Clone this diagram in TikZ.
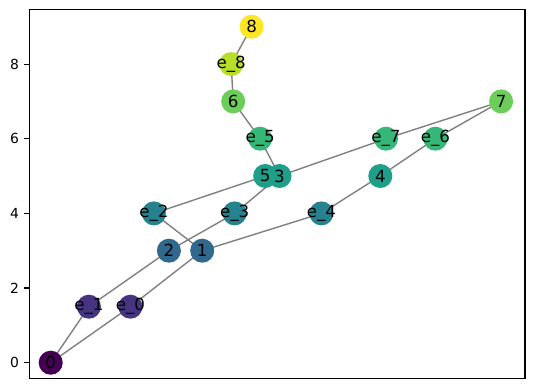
\documentclass[tikz,border=0pt]{standalone}
\usepackage{fontspec}
\setmainfont{DejaVu Sans}
\usetikzlibrary{backgrounds}
\definecolor{v0}{HTML}{440154}
\definecolor{v1}{HTML}{463480}
\definecolor{v3}{HTML}{31688E}
\definecolor{v4}{HTML}{26828E}
\definecolor{v5}{HTML}{1F9E89}
\definecolor{v6}{HTML}{35B779}
\definecolor{v7}{HTML}{6CCD5A}
\definecolor{v8}{HTML}{B8DE29}
\definecolor{v9}{HTML}{FDE725}
\definecolor{edgegray}{HTML}{808080}
\tikzset{
  vnode/.style={circle, minimum size=17.3pt, inner sep=0pt, draw=none, fill=#1},
  vlabel/.style={inner sep=0pt, font=\fontsize{12pt}{14pt}\selectfont, text=black},
  gedge/.style={draw=edgegray, line width=1pt},
  frame/.style={draw=black, line width=0.8pt},
  tick/.style={draw=black, line width=0.8pt},
  ticklabel/.style={anchor=east, inner sep=0pt, font=\fontsize{10pt}{12pt}\selectfont}
}
\begin{document}
\begin{tikzpicture}[x=0.72pt, y=-0.72pt]
\useasboundingbox (0,0) rectangle (534,389);
% nodes (circles)
\node[vnode=v0] (n0) at (50.7,362.7) {};
\node[vnode=v1] (e1) at (88.9,306.7) {};
\node[vnode=v1] (e0) at (130.4,306.7) {};
\node[vnode=v3] (n2) at (168.9,250.7) {};
\node[vnode=v3] (n1) at (202.2,250.7) {};
\node[vnode=v4] (e2) at (153.9,213.4) {};
\node[vnode=v4] (e3) at (234.6,213.4) {};
\node[vnode=v4] (e4) at (321.4,213.4) {};
\node[vnode=v5] (n5) at (265.2,176.0) {};
\node[vnode=v5] (n3) at (279.5,176.0) {};
\node[vnode=v5] (n4) at (380.3,176.0) {};
\node[vnode=v6] (e5) at (260.1,138.7) {};
\node[vnode=v6] (e7) at (386.0,138.7) {};
\node[vnode=v6] (e6) at (435.4,138.7) {};
\node[vnode=v7] (n7) at (501.1,101.4) {};
\node[vnode=v7] (n6) at (233.2,101.4) {};
\node[vnode=v8] (e8) at (231.2,64.1) {};
\node[vnode=v9] (n8) at (251.6,26.7) {};
% labels
\node[vlabel] (t0) at (n0.center) {0};
\node[vlabel] (te1) at (e1.center) {e\_1};
\node[vlabel] (te0) at (e0.center) {e\_0};
\node[vlabel] (t2) at (n2.center) {2};
\node[vlabel] (t1) at (n1.center) {1};
\node[vlabel] (te2) at (e2.center) {e\_2};
\node[vlabel] (te3) at (e3.center) {e\_3};
\node[vlabel] (te4) at (e4.center) {e\_4};
\node[vlabel] (t5) at (n5.center) {5};
\node[vlabel] (t3) at (n3.center) {3};
\node[vlabel] (t4) at (n4.center) {4};
\node[vlabel] (te5) at (e5.center) {e\_5};
\node[vlabel] (te7) at (e7.center) {e\_7};
\node[vlabel] (te6) at (e6.center) {e\_6};
\node[vlabel] (t7) at (n7.center) {7};
\node[vlabel] (t6) at (n6.center) {6};
\node[vlabel] (te8) at (e8.center) {e\_8};
\node[vlabel] (t8) at (n8.center) {8};
% edges
\begin{scope}[on background layer]
\fill[white] (0,0) rectangle (534,389);
\draw[gedge] (n0.center) -- (e1.center);
\draw[gedge] (n0.center) -- (e0.center);
\draw[gedge] (e1.center) -- (n2.center);
\draw[gedge] (e0.center) -- (n1.center);
\draw[gedge] (e2.center) -- (n1.center);
\draw[gedge] (e2.center) -- (n5.center);
\draw[gedge] (n2.center) -- (e3.center);
\draw[gedge] (e3.center) -- (n3.center);
\draw[gedge] (n1.center) -- (e4.center);
\draw[gedge] (e4.center) -- (n4.center);
\draw[gedge] (n4.center) -- (e6.center);
\draw[gedge] (e6.center) -- (n7.center);
\draw[gedge] (n7.center) -- (e7.center);
\draw[gedge] (e7.center) -- (n3.center);
\draw[gedge] (n3.center) -- (e5.center);
\draw[gedge] (e5.center) -- (n6.center);
\draw[gedge] (n6.center) -- (e8.center);
\draw[gedge] (e8.center) -- (n8.center);
\end{scope}
% axes frame
\coordinate (fa) at (29.3,9.3);
\coordinate (fb) at (525,378.7);
\draw[frame] (fa) rectangle (fb);
% y ticks
\foreach \v/\yy in {0/362.7,2/288.0,4/213.4,6/138.7,8/64.1}{
  \coordinate (tk\v) at (29.3,\yy);
  \draw[tick] (tk\v) -- ++(-4.86,0) node[ticklabel, xshift=-3.5pt] (tl\v) {\v};
}
\end{tikzpicture}
\end{document}
